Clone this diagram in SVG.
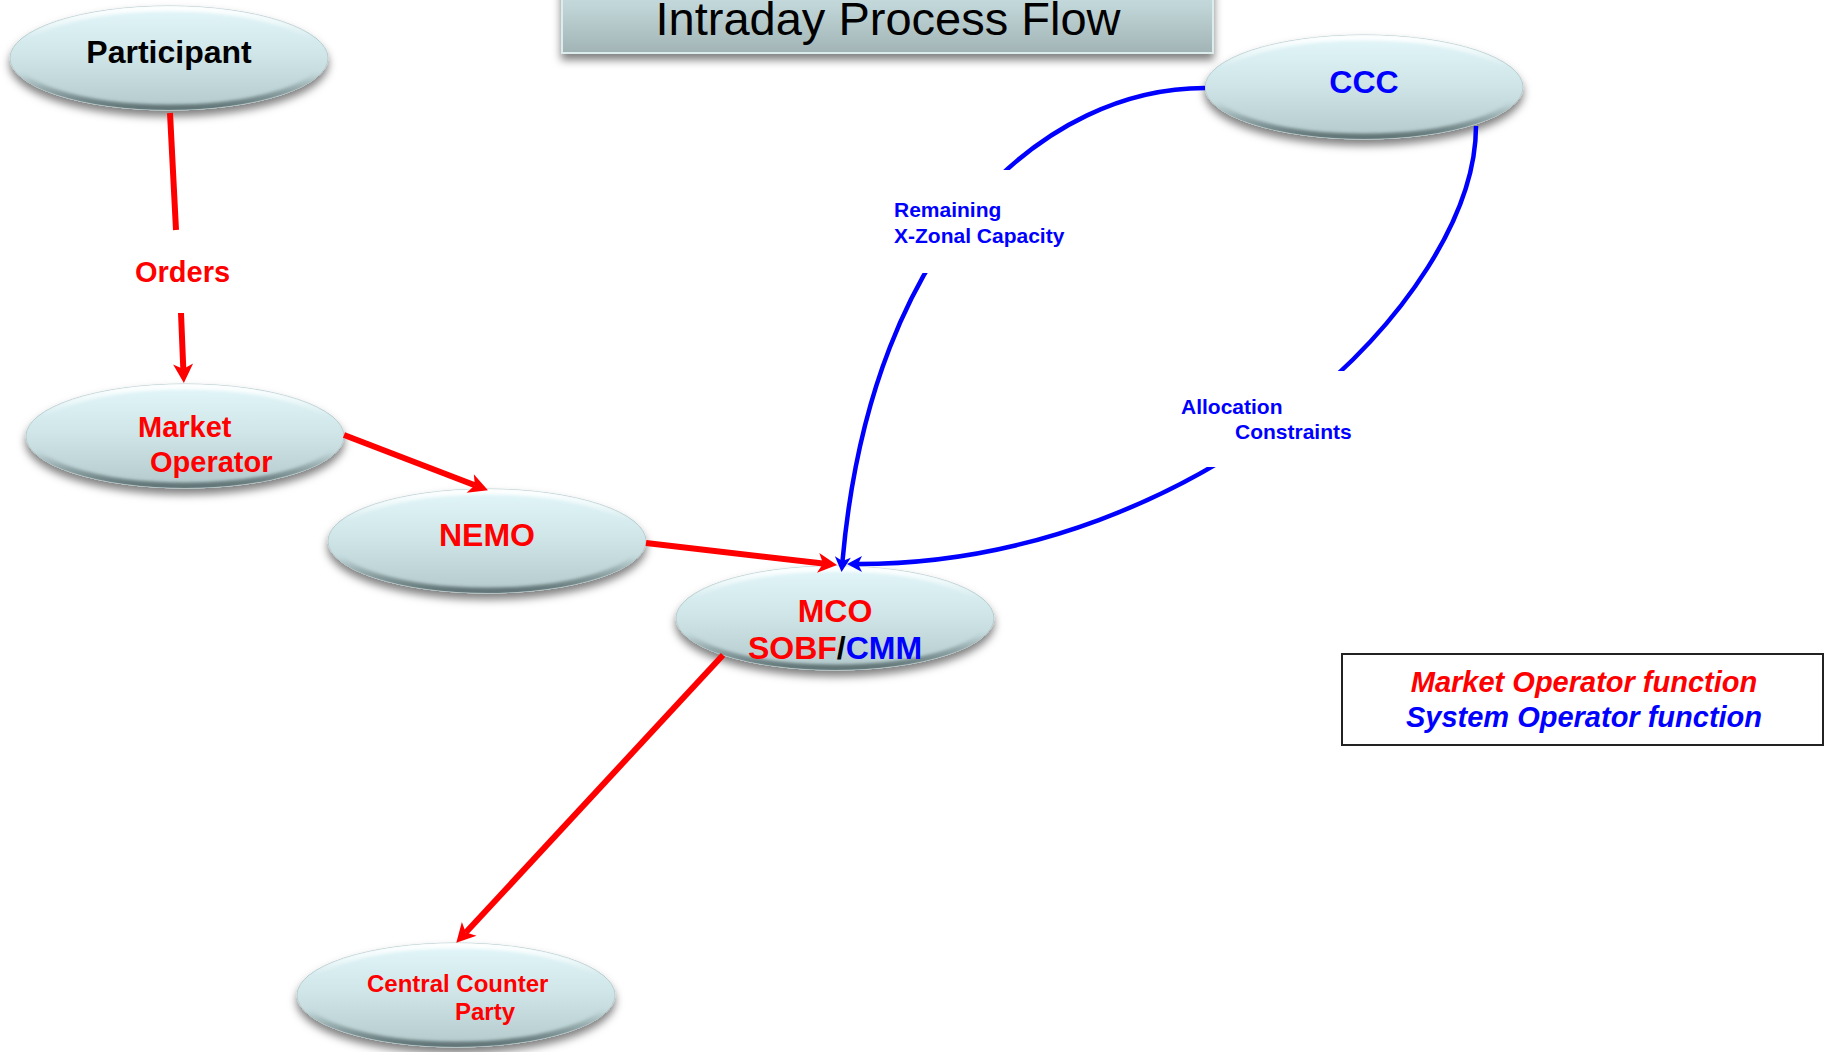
<svg xmlns="http://www.w3.org/2000/svg" xmlns:xlink="http://www.w3.org/1999/xlink" width="1825" height="1052" viewBox="0 0 1825 1052">
  <defs>
    <style>
      text { font-family: "Liberation Sans", Arial, sans-serif; font-weight: bold; }
      .node { font-size: 32px; text-anchor: middle; }
      .red { fill: #ff0000; }
      .blue { fill: #0000ff; }
      .black { fill: #000000; }
      .lbl { font-size: 21px; fill: #0000ff; }
      .legend { font-size: 29px; font-style: italic; text-anchor: middle; }
      .title { font-family: "Liberation Sans", Arial, sans-serif; font-weight: normal; font-size: 47px; text-anchor: middle; fill: #000; }
      .redline { fill: none; stroke: #ff0000; stroke-width: 6; marker-end: url(#arRed); }
      .blueline { fill: none; stroke: #0000ff; stroke-width: 4.5; marker-end: url(#arBlue); }
    </style>
    <linearGradient id="gEll" x1="0" y1="0" x2="0" y2="1">
      <stop offset="0" stop-color="#e3f7fa"/>
      <stop offset="0.45" stop-color="#d0e6e9"/>
      <stop offset="1" stop-color="#b4c9cb"/>
    </linearGradient>
    <linearGradient id="gRim" x1="0" y1="0" x2="0" y2="1">
      <stop offset="0" stop-color="#ffffff" stop-opacity="0.95"/>
      <stop offset="0.3" stop-color="#ffffff" stop-opacity="0"/>
      <stop offset="0.65" stop-color="#4a5e60" stop-opacity="0"/>
      <stop offset="1" stop-color="#4a5e60" stop-opacity="0.8"/>
    </linearGradient>
    <linearGradient id="gTitle" x1="0" y1="0" x2="0" y2="1">
      <stop offset="0" stop-color="#d6eaec"/>
      <stop offset="0.5" stop-color="#c0d5d7"/>
      <stop offset="1" stop-color="#a1b3b5"/>
    </linearGradient>
    <filter id="shadow" x="-20%" y="-30%" width="140%" height="170%">
      <feDropShadow dx="0" dy="6" stdDeviation="4" flood-color="#000" flood-opacity="0.5"/>
    </filter>
    <filter id="soft" x="-10%" y="-10%" width="120%" height="120%">
      <feGaussianBlur stdDeviation="1.5"/>
    </filter>
    <clipPath id="ellClip">
      <ellipse cx="0" cy="0" rx="159" ry="52"/>
    </clipPath>
    <g id="ellShape">
      <ellipse cx="0" cy="0" rx="159" ry="52" fill="url(#gEll)" stroke="#b8cdcf" stroke-width="1" filter="url(#shadow)"/>
      <g clip-path="url(#ellClip)">
        <ellipse cx="0" cy="0" rx="157" ry="50" fill="none" stroke="url(#gRim)" stroke-width="7" filter="url(#soft)"/>
      </g>
    </g>
    <marker id="arRed" markerUnits="userSpaceOnUse" markerWidth="24" markerHeight="24" refX="5" refY="10" orient="auto" overflow="visible">
      <path d="M19,10 L0,0 L5,10 L0,20 Z" fill="#ff0000"/>
    </marker>
    <marker id="arBlue" markerUnits="userSpaceOnUse" markerWidth="20" markerHeight="20" refX="4" refY="8" orient="auto" overflow="visible">
      <path d="M15,8 L0,0 L4,8 L0,16 Z" fill="#0000ff"/>
    </marker>
    <mask id="gap1" maskUnits="userSpaceOnUse" x="0" y="0" width="1825" height="1052">
      <rect x="0" y="0" width="1825" height="1052" fill="#fff"/>
      <rect x="0" y="170" width="1825" height="103" fill="#000"/>
    </mask>
    <mask id="gap2" maskUnits="userSpaceOnUse" x="0" y="0" width="1825" height="1052">
      <rect x="0" y="0" width="1825" height="1052" fill="#fff"/>
      <rect x="0" y="371" width="1825" height="96" fill="#000"/>
    </mask>
  </defs>

  <rect x="0" y="0" width="1825" height="1052" fill="#ffffff"/>

  <g id="title">
    <rect x="562" y="-40" width="651" height="93" fill="url(#gTitle)" stroke="#dcebec" stroke-width="2" filter="url(#shadow)"/>
    <text class="title" x="888" y="35">Intraday Process Flow</text>
  </g>

  <g id="node-participant">
    <use xlink:href="#ellShape" href="#ellShape" transform="translate(169,58)"/>
    <text class="node black" x="169" y="63">Participant</text>
  </g>

  <g id="node-market-operator">
    <use xlink:href="#ellShape" href="#ellShape" transform="translate(185,436)"/>
    <text class="red" font-size="29" x="138" y="437">Market</text>
    <text class="red" font-size="29" x="150" y="472">Operator</text>
  </g>

  <g id="node-nemo">
    <use xlink:href="#ellShape" href="#ellShape" transform="translate(487,541)"/>
    <text class="node red" x="487" y="546">NEMO</text>
  </g>

  <g id="node-mco">
    <use xlink:href="#ellShape" href="#ellShape" transform="translate(835,618)"/>
    <text class="node red" x="835" y="622">MCO</text>
    <text class="node" x="835" y="659"><tspan class="red">SOBF</tspan><tspan class="black">/</tspan><tspan class="blue">CMM</tspan></text>
  </g>

  <g id="node-ccp">
    <use xlink:href="#ellShape" href="#ellShape" transform="translate(456,995)"/>
    <text class="red" font-size="24" x="367" y="992">Central Counter</text>
    <text class="red" font-size="24" x="455" y="1020">Party</text>
  </g>

  <g id="node-ccc">
    <use xlink:href="#ellShape" href="#ellShape" transform="translate(1364,87)"/>
    <text class="node blue" x="1364" y="93">CCC</text>
  </g>

  <g id="connectors">
    <path class="redline" d="M170,113 L176,230 M181,313 L183.3,369"/>
    <path class="redline" d="M344,435 L474.9,485.3"/>
    <path class="redline" d="M646,543 L823.1,563.5"/>
    <path class="redline" d="M723,655 L465.8,932.5"/>
    <path class="blueline" mask="url(#gap1)" d="M1205,88 C1050,88 872,230 842.5,561"/>
    <path class="blueline" mask="url(#gap2)" d="M1476,126 C1476,300 1200,564 858,564"/>
    <text class="red" font-size="29" x="135" y="282">Orders</text>
    <text class="lbl" x="894" y="217">Remaining</text>
    <text class="lbl" x="894" y="243">X-Zonal Capacity</text>
    <text class="lbl" x="1181" y="414">Allocation</text>
    <text class="lbl" x="1235" y="439">Constraints</text>
  </g>

  <g id="legend">
    <rect x="1342" y="654" width="481" height="91" fill="#ffffff" stroke="#222222" stroke-width="2"/>
    <text class="legend red" x="1584" y="692">Market Operator function</text>
    <text class="legend blue" x="1584" y="727">System Operator function</text>
  </g>
</svg>
